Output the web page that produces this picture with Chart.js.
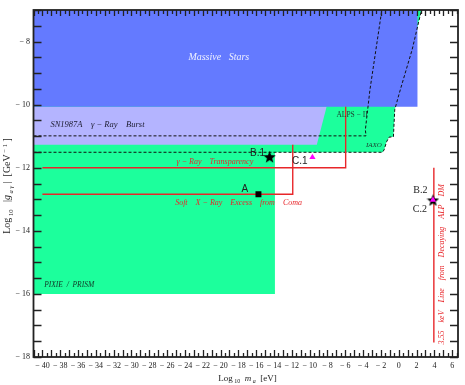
<!DOCTYPE html>
<html>
<head>
<meta charset="utf-8">
<script src="https://cdn.jsdelivr.net/npm/chart.js@4.4.0/dist/chart.umd.min.js"></script>
<style>
  html, body { margin: 0; padding: 0; background: #fff; }
  #wrap { position: relative; width: 465px; height: 385px; }
</style>
</head>
<body>
<div id="wrap"><canvas id="axion-chart"></canvas></div>
<script>
// Regions and limits, as [log10 m_a, log10 g_ag] pairs
const massiveStars = [[-41, -7], [2.1, -7], [2.1, -10.07], [-41, -10.07]];
const sn1987a = [[-41, -10.07], [-8.1, -10.07], [-9.2, -11.27], [-41, -11.27]];
const iaxoRegion = [[-41, -7], [2.55, -7], [1.51, -8.25], [0.4, -9.31], [0.02, -9.68], [-0.45, -10.16],
  [-0.6, -11.02], [-1.09, -11.03], [-1.37, -11.18], [-1.64, -11.43], [-1.82, -11.51],
  [-13.9, -11.51], [-13.9, -16], [-41, -16]];
const iaxoLine = [[-41, -11.51], [-1.82, -11.51], [-1.64, -11.43], [-1.37, -11.18], [-1.09, -11.03],
  [-0.6, -11.02], [-0.45, -10.16], [0.02, -9.68], [0.4, -9.31], [1.51, -8.25], [2.55, -7]];
const alpsLine = [[-41, -10.99], [-3.67, -10.99], [-3.75, -10.8], [-3.23, -9.52], [-2.56, -8.25], [-1.9, -7]];
const transparencyLine = [[-40, -12], [-5.96, -12], [-5.96, -10.07]];
const comaLine = [[-40, -12.84], [-11.9, -12.84], [-11.9, -11.27]];
const dmLine = [[3.94, -12], [3.94, -17.54]];
const pointA = [[-15.75, -12.84]];
const starPoints = [[-14.5, -11.65], [3.84, -13.02]];      // B.1, B.2
const trianglePoints = [[-9.69, -11.67], [3.84, -13.02]];  // C.1, C.2
const xTickLabels = [-40, -38, -36, -34, -32, -30, -28, -26, -24, -22, -20, -18, -16, -14, -12, -10, -8, -6, -4, -2, 0, 2, 4, 6];
const yTickLabels = [-8, -10, -12, -14, -16, -18];

const SERIF = '"Liberation Serif", "DejaVu Serif", serif';
const SANS = '"Liberation Sans", Arial, sans-serif';
const RED = '#e8262a';

const toXY = pts => pts.map(([x, y]) => ({x, y}));
const closed = pts => toXY(pts.concat([pts[0]]));
const fmt = v => (v < 0 ? '\u2212 ' + Math.abs(v) : String(v));

function makeStar(size) {
  const c = document.createElement('canvas');
  c.width = c.height = size;
  const g = c.getContext('2d');
  const r = size / 2, ri = r * 0.42;
  g.beginPath();
  for (let i = 0; i < 10; i++) {
    const rad = i % 2 ? ri : r;
    const a = -Math.PI / 2 + i * Math.PI / 5;
    g.lineTo(r + rad * Math.cos(a), r + 0.8 + rad * Math.sin(a));
  }
  g.closePath();
  g.fillStyle = '#000';
  g.fill();
  return c;
}

// text placed in data units
const notes = [
  {text: 'Massive   Stars', x: -20.2, y: -8.5, font: 'italic 10px ' + SERIF, color: '#eef0ff', align: 'center'},
  {text: 'SN1987A    \u03b3 \u2212 Ray    Burst', x: -39.1, y: -10.64, font: 'italic 8.5px ' + SERIF, color: '#1c1c30'},
  {text: 'ALPS \u2212 II', x: -7.0, y: -10.32, font: '7.5px ' + SERIF, color: '#1d3b2e'},
  {text: 'IAXO', x: -3.68, y: -11.3, font: 'italic 7px ' + SERIF, color: '#1d3b2e'},
  {text: '\u03b3 \u2212 Ray    Transparency', x: -24.95, y: -11.82, font: 'italic 8px ' + SERIF, color: RED},
  {text: 'Soft    X \u2212 Ray    Excess    from    Coma', x: -25.1, y: -13.11, font: 'italic 8px ' + SERIF, color: RED},
  {text: 'PIXIE  /  PRISM', x: -39.8, y: -15.71, font: 'italic 7.5px ' + SERIF, color: '#123526'},
  {text: 'A', x: -17.27, y: -12.68, font: '10px ' + SANS, color: '#222', align: 'center'},
  {text: 'B.1', x: -15.86, y: -11.53, font: '10px ' + SANS, color: '#222', align: 'center'},
  {text: 'C.1', x: -11.1, y: -11.8, font: '10px ' + SANS, color: '#222', align: 'center'},
  {text: 'B.2', x: 2.43, y: -12.73, font: '10px ' + SERIF, color: '#222', align: 'center'},
  {text: 'C.2', x: 2.37, y: -13.32, font: '10px ' + SERIF, color: '#222', align: 'center'},
  {text: '3.55    keV    Line    from    Decaying    ALP    DM', x: 4.83, y: -15.06, font: 'italic 8px ' + SERIF, color: RED, align: 'center', rotate: true},
];

// draws runs of text with sub/superscripts, left to right from x
function drawRuns(ctx, runs, x, y) {
  for (const run of runs) {
    ctx.font = run.font;
    ctx.fillText(run.t, x, y + (run.dy || 0));
    x += ctx.measureText(run.t).width;
  }
}
function runsWidth(ctx, runs) {
  let w = 0;
  for (const run of runs) {
    ctx.font = run.font;
    w += ctx.measureText(run.t).width;
  }
  return w;
}

const framePlugin = {
  id: 'frame',
  afterDatasetsDraw(chart) {
    const {ctx, chartArea: a, scales: {x, y}} = chart;
    ctx.save();
    ctx.fillStyle = '#222';
    ctx.strokeStyle = '#222';
    ctx.lineWidth = 1.3;
    ctx.beginPath();
    // x ticks, bottom and top
    for (let v = -41; v <= 6.6; v += 0.5) {
      const px = Math.round(x.getPixelForValue(v)) + 0.5;
      const long = Number.isInteger(v);
      ctx.moveTo(px, a.bottom);
      ctx.lineTo(px, a.bottom - (long ? 7 : 4));
      ctx.moveTo(px, a.top);
      ctx.lineTo(px, a.top + (long ? 6 : 4));
    }
    // y ticks, left and right
    for (let v = -18; v <= -7; v += 0.5) {
      const py = Math.round(y.getPixelForValue(v)) + 0.5;
      ctx.moveTo(a.left, py);
      ctx.lineTo(a.left + 8, py);
      ctx.moveTo(a.right, py);
      ctx.lineTo(a.right - 8, py);
    }
    ctx.stroke();
    ctx.lineWidth = 1.8;
    ctx.strokeRect(a.left, a.top, a.right - a.left, a.bottom - a.top);

    ctx.font = '8px ' + SERIF;
    ctx.textBaseline = 'middle';
    ctx.textAlign = 'center';
    for (const v of xTickLabels) {
      ctx.fillText(fmt(v), x.getPixelForValue(v), a.bottom + 8.5);
    }
    ctx.textAlign = 'right';
    for (const v of yTickLabels) {
      ctx.fillText(fmt(v), a.left - 3.5, y.getPixelForValue(v));
    }

    // axis titles
    ctx.textAlign = 'left';
    ctx.textBaseline = 'alphabetic';
    const big = '9px ' + SERIF, small = '6px ' + SERIF;
    const xTitle = [
      {t: 'Log', font: big}, {t: ' 10', font: small, dy: 2.5}, {t: '  ', font: big},
      {t: 'm', font: 'italic ' + big}, {t: ' a', font: 'italic ' + small, dy: 2.5}, {t: '  [eV]', font: big},
    ];
    drawRuns(ctx, xTitle, 247.5 - runsWidth(ctx, xTitle) / 2, 380.5);
    const bigY = '10px ' + SERIF, smallY = '6.5px ' + SERIF;
    const yTitle = [
      {t: 'Log', font: bigY}, {t: ' 10', font: smallY, dy: 2.5}, {t: '   |', font: bigY},
      {t: 'g', font: 'italic ' + bigY}, {t: ' a \u03b3', font: 'italic ' + smallY, dy: 2.5},
      {t: ' |  [GeV', font: bigY}, {t: ' \u2212 1', font: smallY, dy: -3.5}, {t: ' ]', font: bigY},
    ];
    ctx.save();
    ctx.translate(10, 186);
    ctx.rotate(-Math.PI / 2);
    drawRuns(ctx, yTitle, -runsWidth(ctx, yTitle) / 2, 0);
    ctx.restore();

    // annotations
    ctx.textBaseline = 'middle';
    for (const n of notes) {
      ctx.font = n.font;
      ctx.fillStyle = n.color;
      ctx.textAlign = n.align || 'left';
      const px = x.getPixelForValue(n.x), py = y.getPixelForValue(n.y);
      if (n.rotate) {
        ctx.save();
        ctx.translate(px, py);
        ctx.rotate(-Math.PI / 2);
        ctx.fillText(n.text, 0, 0);
        ctx.restore();
      } else {
        ctx.fillText(n.text, px, py);
      }
    }
    ctx.restore();
  },
};

const area = (data, color, order) => ({
  data: closed(data), showLine: true, fill: 'shape', backgroundColor: color,
  borderColor: color, borderWidth: 0, pointRadius: 0, tension: 0, order,
});
const line = (data, color, dash, width, order) => ({
  data: toXY(data), showLine: true, fill: false, borderColor: color, borderWidth: width,
  borderDash: dash, pointRadius: 0, tension: 0, order,
});

new Chart(document.querySelector('#axion-chart'), {
  type: 'scatter',
  data: {
    datasets: [
      area(iaxoRegion, 'rgb(28, 255, 156)', 10),
      area(sn1987a, 'rgb(180, 180, 255)', 9),
      area(massiveStars, 'rgb(100, 122, 255)', 8),
      line(alpsLine, '#111', [3, 2], 1, 6),
      line(iaxoLine, '#111', [3, 2], 1, 6),
      line(transparencyLine, RED, [], 1.4, 5),
      line(comaLine, RED, [], 1.4, 5),
      line(dmLine, RED, [], 1.4, 5),
      {data: toXY(pointA), pointStyle: 'rect', pointRadius: 4.2, backgroundColor: '#000', borderWidth: 0, order: 3},
      {data: toXY(starPoints), pointStyle: makeStar(13), pointRadius: 6, order: 2},
      {data: toXY(trianglePoints), pointStyle: 'triangle', pointRadius: 3.6, backgroundColor: '#ff00ff', borderWidth: 0, order: 1},
    ],
  },
  options: {
    responsive: true,
    maintainAspectRatio: false,
    animation: false,
    layout: {padding: {left: 33.5, top: 10, right: 2, bottom: 28}},
    scales: {
      x: {type: 'linear', min: -41, max: 6.65, display: false},
      y: {type: 'linear', min: -18, max: -7, display: false},
    },
    plugins: {
      legend: {display: false},
      tooltip: {enabled: false},
    },
  },
  plugins: [framePlugin],
});
</script>
</body>
</html>
